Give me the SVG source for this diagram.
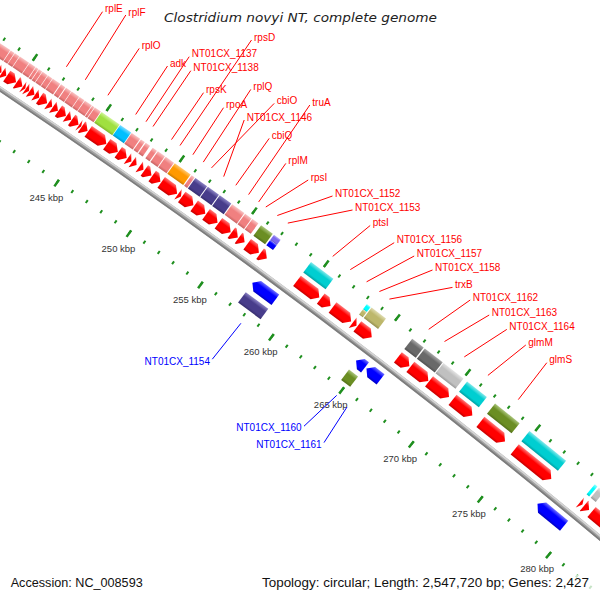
<svg xmlns="http://www.w3.org/2000/svg" width="600" height="600" viewBox="0 0 600 600">
<defs>
<linearGradient id="gR"><stop offset="0" stop-color="#c40000"/><stop offset=".22" stop-color="#ff0000"/><stop offset=".68" stop-color="#ff0000"/><stop offset="1" stop-color="#ff7878"/></linearGradient>
<linearGradient id="gB"><stop offset="0" stop-color="#0000c0"/><stop offset=".22" stop-color="#0000ff"/><stop offset=".68" stop-color="#0000ff"/><stop offset="1" stop-color="#7070ff"/></linearGradient>
<linearGradient id="gPk"><stop offset="0" stop-color="#c86464"/><stop offset=".22" stop-color="#f08080"/><stop offset=".68" stop-color="#f08080"/><stop offset="1" stop-color="#f8c4c4"/></linearGradient>
<linearGradient id="gGn"><stop offset="0" stop-color="#7fb52a"/><stop offset=".22" stop-color="#a0e040"/><stop offset=".68" stop-color="#a0e040"/><stop offset="1" stop-color="#d0f59a"/></linearGradient>
<linearGradient id="gCy"><stop offset="0" stop-color="#0096c8"/><stop offset=".22" stop-color="#00bfff"/><stop offset=".68" stop-color="#00bfff"/><stop offset="1" stop-color="#80dcff"/></linearGradient>
<linearGradient id="gOr"><stop offset="0" stop-color="#c87800"/><stop offset=".22" stop-color="#ff9900"/><stop offset=".68" stop-color="#ff9900"/><stop offset="1" stop-color="#ffc870"/></linearGradient>
<linearGradient id="gSl"><stop offset="0" stop-color="#372e6e"/><stop offset=".22" stop-color="#483d8b"/><stop offset=".68" stop-color="#483d8b"/><stop offset="1" stop-color="#8c84c4"/></linearGradient>
<linearGradient id="gOl"><stop offset="0" stop-color="#53701a"/><stop offset=".22" stop-color="#6b8e23"/><stop offset=".68" stop-color="#6b8e23"/><stop offset="1" stop-color="#a9c47a"/></linearGradient>
<linearGradient id="gLi"><stop offset="0" stop-color="#5f50c0"/><stop offset=".22" stop-color="#7b68ee"/><stop offset=".68" stop-color="#7b68ee"/><stop offset="1" stop-color="#b8aef8"/></linearGradient>
<linearGradient id="gTq"><stop offset="0" stop-color="#00a0a3"/><stop offset=".22" stop-color="#00ced1"/><stop offset=".68" stop-color="#00ced1"/><stop offset="1" stop-color="#80e8ea"/></linearGradient>
<linearGradient id="gKh"><stop offset="0" stop-color="#959050"/><stop offset=".22" stop-color="#bdb76b"/><stop offset=".68" stop-color="#bdb76b"/><stop offset="1" stop-color="#dedbb0"/></linearGradient>
<linearGradient id="gCn"><stop offset="0" stop-color="#00c8c8"/><stop offset=".22" stop-color="#00ffff"/><stop offset=".68" stop-color="#00ffff"/><stop offset="1" stop-color="#90ffff"/></linearGradient>
<linearGradient id="gDg"><stop offset="0" stop-color="#505050"/><stop offset=".22" stop-color="#696969"/><stop offset=".68" stop-color="#696969"/><stop offset="1" stop-color="#a8a8a8"/></linearGradient>
<linearGradient id="gSv"><stop offset="0" stop-color="#989898"/><stop offset=".22" stop-color="#c0c0c0"/><stop offset=".68" stop-color="#c0c0c0"/><stop offset="1" stop-color="#e4e4e4"/></linearGradient>
</defs>
<style>
.r{fill:url(#gR)}.b{fill:url(#gB)}.pk{fill:url(#gPk)}.gn{fill:url(#gGn)}.cy{fill:url(#gCy)}.or{fill:url(#gOr)}.sl{fill:url(#gSl)}.ol{fill:url(#gOl)}.li{fill:url(#gLi)}.tq{fill:url(#gTq)}.kh{fill:url(#gKh)}.cn{fill:url(#gCn)}.dg{fill:url(#gDg)}.sv{fill:url(#gSv)}
text{font-family:"Liberation Sans",Arial,sans-serif}
.gl{font-size:10px;fill:#f00}
.bl{font-size:10px;fill:#00f;text-anchor:end}
.kb{font-size:9.5px;fill:#333;text-anchor:middle}
.ti{font-family:"DejaVu Sans",sans-serif;font-style:italic;font-size:12.5px;fill:#222}
.ft{font-size:12.5px;fill:#111}
.tk{fill:none;stroke:#1f8f1f}
#connectors line{stroke-width:1}
.cr{stroke:#f00}.cb{stroke:#00f}
</style>
<rect width="600" height="600" fill="#fff"/>
<g id="backbone" fill="none">
<circle cx="-4003.1" cy="6063.9" r="7192" stroke="#a0a0a0" stroke-width="5"/>
<circle cx="-4003.1" cy="6063.9" r="7193.6" stroke="#d4d4d4" stroke-width="1.8"/>
<circle cx="-4003.1" cy="6063.9" r="7190.4" stroke="#7c7c7c" stroke-width="1.6"/>
</g>
<g id="ticks">
<path class="tk" d="M-73.75,92.8A7148,7148 0 0 1 603.96,598.66" stroke-width="3.5" stroke-dasharray="2 15.6284" stroke-dashoffset="1"/>
<path class="tk" d="M-74.85,94.47A7146,7146 0 0 1 602.67,600.19" stroke-width="8" stroke-dasharray="2.5 85.617" stroke-dashoffset="18.873"/>
<path class="tk" d="M-25.54,19.54A7235.7,7235.7 0 0 1 660.48,531.61" stroke-width="3.5" stroke-dasharray="2 15.8447" stroke-dashoffset="1"/>
<path class="tk" d="M-24.44,17.87A7237.7,7237.7 0 0 1 661.77,530.08" stroke-width="8" stroke-dasharray="2.5 86.747" stroke-dashoffset="19.099"/>
</g>
<g id="kbp-labels">
<text class="kb" x="46.45" y="201.3">245 kbp</text>
<text class="kb" x="118.48" y="251.7">250 kbp</text>
<text class="kb" x="189.87" y="303">255 kbp</text>
<text class="kb" x="260.63" y="355.1">260 kbp</text>
<text class="kb" x="330.75" y="408.1">265 kbp</text>
<text class="kb" x="400.19" y="462">270 kbp</text>
<text class="kb" x="468.97" y="516.7">275 kbp</text>
<text class="kb" x="537.07" y="572.3">280 kbp</text>
</g>
<g id="features" transform="translate(-4003.1 6063.9)">
<g id="gene0" transform="rotate(-56.459)translate(7192)"><path class="r" d="M8-7.16H21V1.16L14.5 7.16 8 1.16Z"/><rect class="pk" x="25" y="-7.16" width="13" height="14.32"/></g>
<g id="gene1" transform="rotate(-56.3382)translate(7192)"><path class="r" d="M8-7.08H21V1.08L14.5 7.08 8 1.08Z"/><rect class="pk" x="25" y="-7.08" width="13" height="14.16"/></g>
<g id="gene2" transform="rotate(-56.2597)translate(7192)"><path class="r" d="M8-2.19H21L14.5 2.19Z"/><rect class="pk" x="25" y="-2.19" width="13" height="4.38"/></g>
<g id="gene3" transform="rotate(-56.2166)translate(7192)"><path class="r" d="M8-2.63H21L14.5 2.63Z"/><rect class="pk" x="25" y="-2.63" width="13" height="5.26"/></g>
<g id="gene4" transform="rotate(-56.1467)translate(7192)"><path class="r" d="M8-5.57H21V-.43L14.5 5.57 8-.43Z"/><rect class="pk" x="25" y="-5.57" width="13" height="11.14"/></g>
<g id="gene5" transform="rotate(-56.0697)translate(7192)"><path class="r" d="M8-3.52H21V-2.48L14.5 3.52 8-2.48Z"/><rect class="pk" x="25" y="-3.52" width="13" height="7.04"/></g>
<g id="gene6" transform="rotate(-56.0252)translate(7192)"><path class="r" d="M8-1.48H21L14.5 1.48Z"/><rect class="pk" x="25" y="-1.48" width="13" height="2.96"/></g>
<g id="gene7" transform="rotate(-55.9934)translate(7192)"><path class="r" d="M8-1.92H21L14.5 1.92Z"/><rect class="pk" x="25" y="-1.92" width="13" height="3.84"/></g>
<g id="gene8" transform="rotate(-55.9496)translate(7192)"><path class="r" d="M8-2.99H21L14.5 2.99Z"/><rect class="pk" x="25" y="-2.99" width="13" height="5.98"/></g>
<g id="gene9" transform="rotate(-55.9008)translate(7192)"><path class="r" d="M8-2.55H21L14.5 2.55Z"/><rect class="pk" x="25" y="-2.55" width="13" height="5.1"/></g>
<g id="rplE" transform="rotate(-55.8401)translate(7192)"><path class="r" d="M8-4.5H21V-1.5L14.5 4.5 8-1.5Z"/><rect class="pk" x="25" y="-4.5" width="13" height="9"/></g>
<g id="gene11" transform="rotate(-55.7765)translate(7192)"><path class="r" d="M8-2.55H21L14.5 2.55Z"/><rect class="pk" x="25" y="-2.55" width="13" height="5.1"/></g>
<g id="gene12" transform="rotate(-55.7242)translate(7192)"><path class="r" d="M8-3.08H21V-2.92L14.5 3.08 8-2.92Z"/><rect class="pk" x="25" y="-3.08" width="13" height="6.16"/></g>
<g id="rplF" transform="rotate(-55.6592)translate(7192)"><path class="r" d="M8-4.5H21V-1.5L14.5 4.5 8-1.5Z"/><rect class="pk" x="25" y="-4.5" width="13" height="9"/></g>
<g id="gene14" transform="rotate(-55.5956)translate(7192)"><path class="r" d="M8-2.9H21L14.5 2.9Z"/><rect class="pk" x="25" y="-2.9" width="13" height="5.8"/></g>
<g id="gene15" transform="rotate(-55.5349)translate(7192)"><path class="r" d="M8-4.14H21V-1.86L14.5 4.14 8-1.86Z"/><rect class="pk" x="25" y="-4.14" width="13" height="8.28"/></g>
<g id="gene16" transform="rotate(-55.4868)translate(7192)"><path class="r" d="M8-1.3H21L14.5 1.3Z"/><rect class="pk" x="25" y="-1.3" width="13" height="2.6"/></g>
<g id="rplO" transform="rotate(-55.443)translate(7192)"><path class="r" d="M8-3.61H21V-2.39L14.5 3.61 8-2.39Z"/><rect class="pk" x="25" y="-3.61" width="13" height="7.22"/></g>
<g id="secY" transform="rotate(-55.3208)translate(7192)"><path class="r" d="M8-10.99H21V4.99L14.5 10.99 8 4.99Z"/><rect class="gn" x="25" y="-10.99" width="13" height="21.98"/></g>
<g id="adk" transform="rotate(-55.1752)translate(7192)"><path class="r" d="M8-6.72H21V.72L14.5 6.72 8 .72Z"/><rect class="cy" x="25" y="-6.72" width="13" height="13.44"/></g>
<g id="NT01CX_1137" transform="rotate(-55.0763)translate(7192)"><path class="r" d="M8-5.12H21V-.88L14.5 5.12 8-.88Z"/><rect class="pk" x="25" y="-5.12" width="13" height="10.24"/></g>
<g id="NT01CX_1138" transform="rotate(-55.0092)translate(7192)"><path class="r" d="M8-2.37H21L14.5 2.37Z"/><rect class="pk" x="25" y="-2.37" width="13" height="4.74"/></g>
<g id="gene22" transform="rotate(-54.9605)translate(7192)"><path class="r" d="M8-2.63H21L14.5 2.63Z"/><rect class="pk" x="25" y="-2.63" width="13" height="5.26"/></g>
<g id="gene23" transform="rotate(-54.8933)translate(7192)"><path class="r" d="M8-2.55H21L14.5 2.55Z"/><rect class="pk" x="25" y="-2.55" width="13" height="5.1"/></g>
<g id="rpsK" transform="rotate(-54.8298)translate(7192)"><path class="r" d="M8-4.32H21V-1.68L14.5 4.32 8-1.68Z"/><rect class="pk" x="25" y="-4.32" width="13" height="8.64"/></g>
<g id="rpsD" transform="rotate(-54.7478)translate(7192)"><path class="r" d="M8-5.03H21V-.97L14.5 5.03 8-.97Z"/><rect class="pk" x="25" y="-5.03" width="13" height="10.06"/></g>
<g id="rpoA" transform="rotate(-54.6228)translate(7192)"><path class="r" d="M8-9.74H21V3.74L14.5 9.74 8 3.74Z"/><rect class="or" x="25" y="-9.74" width="13" height="19.48"/></g>
<g id="rplQ" transform="rotate(-54.5217)translate(7192)"><path class="r" d="M8-1.83H21L14.5 1.83Z"/><rect class="pk" x="25" y="-1.83" width="13" height="3.66"/></g>
<g id="cbiO" transform="rotate(-54.4426)translate(7192)"><path class="r" d="M8-7.17H21V1.17L14.5 7.17 8 1.17Z"/><rect class="sl" x="25" y="-7.17" width="13" height="14.34"/></g>
<g id="NT01CX_1146" transform="rotate(-54.3239)translate(7192)"><path class="r" d="M8-6.81H21V.81L14.5 6.81 8 .81Z"/><rect class="sl" x="25" y="-6.81" width="13" height="13.62"/></g>
<g id="cbiQ" transform="rotate(-54.2059)translate(7192)"><path class="r" d="M8-7.08H21V1.08L14.5 7.08 8 1.08Z"/><rect class="sl" x="25" y="-7.08" width="13" height="14.16"/></g>
<g id="truA" transform="rotate(-54.0809)translate(7192)"><path class="r" d="M8-7.52H21V1.52L14.5 7.52 8 1.52Z"/><rect class="pk" x="25" y="-7.52" width="13" height="15.04"/></g>
<g id="rplM" transform="rotate(-53.982)translate(7192)"><path class="r" d="M8-3.97H21V-2.03L14.5 3.97 8-2.03Z"/><rect class="pk" x="25" y="-3.97" width="13" height="7.94"/></g>
<g id="rpsI" transform="rotate(-53.9134)translate(7192)"><path class="r" d="M8-3.7H21V-2.3L14.5 3.7 8-2.3Z"/><rect class="pk" x="25" y="-3.7" width="13" height="7.4"/></g>
<g id="NT01CX_1152" transform="rotate(-53.8004)translate(7192)"><path class="r" d="M8-7.25H21V1.25L14.5 7.25 8 1.25Z"/><rect class="ol" x="25" y="-7.25" width="13" height="14.5"/></g>
<g id="NT01CX_1153" transform="rotate(-53.6979)translate(7192)"><path class="r" d="M8-4.14H21V-1.86L14.5 4.14 8-1.86Z"/><rect class="li" x="31.5" y="-4.14" width="6.5" height="8.28"/><rect class="b" x="25" y="-4.14" width="6.5" height="8.28"/></g>
<g id="ptsI" transform="rotate(-53.2557)translate(7192)"><path class="r" d="M8-13.92H21V7.92L14.5 13.92 8 7.92Z"/><rect class="tq" x="25" y="-13.92" width="13" height="27.84"/></g>
<g id="NT01CX_1156" transform="rotate(-53.0819)translate(7192)"><path class="r" d="M8-6.1H21V.1L14.5 6.1 8 .1Z"/></g>
<g id="NT01CX_1157" transform="rotate(-52.9208)translate(7192)"><path class="r" d="M8-11.61H21V5.61L14.5 11.61 8 5.61Z"/></g>
<g id="NT01CX_1158" transform="rotate(-52.7936)translate(7192)"><path class="r" d="M8-2.37H21L14.5 2.37Z"/><rect class="cn" x="31.5" y="-2.37" width="6.5" height="4.74"/><rect class="kh" x="25" y="-2.37" width="6.5" height="4.74"/></g>
<g id="trxB" transform="rotate(-52.694)translate(7192)"><path class="r" d="M8-9.03H21V3.03L14.5 9.03 8 3.03Z"/><rect class="kh" x="25" y="-9.03" width="13" height="18.06"/></g>
<g id="NT01CX_1162" transform="rotate(-52.3026)translate(7192)"><path class="r" d="M8-7.25H21V1.25L14.5 7.25 8 1.25Z"/><rect class="dg" x="25" y="-7.25" width="13" height="14.5"/></g>
<g id="NT01CX_1163" transform="rotate(-52.1443)translate(7192)"><path class="r" d="M8-11.34H21V5.34L14.5 11.34 8 5.34Z"/><rect class="dg" x="25" y="-11.34" width="13" height="22.68"/></g>
<g id="NT01CX_1164" transform="rotate(-51.9458)translate(7192)"><path class="r" d="M8-12.67H21V6.67L14.5 12.67 8 6.67Z"/><rect class="sv" x="25" y="-12.67" width="13" height="25.34"/></g>
<g id="glmM" transform="rotate(-51.7091)translate(7192)"><path class="r" d="M8-12.58H21V6.58L14.5 12.58 8 6.58Z"/><rect class="tq" x="25" y="-12.58" width="13" height="25.16"/></g>
<g id="glmS" transform="rotate(-51.4018)translate(7192)"><path class="r" d="M8-15.7H21V9.7L14.5 15.7 8 9.7Z"/><rect class="ol" x="25" y="-15.7" width="13" height="31.4"/></g>
<g id="gene46" transform="rotate(-50.9906)translate(7192)"><path class="r" d="M8-23.52H21V17.52L14.5 23.52 8 17.52Z"/><rect class="tq" x="25" y="-23.52" width="13" height="47.04"/></g>
<g id="gene47" transform="rotate(-50.496)translate(7192)"><path class="r" d="M8-1.66H21L14.5 1.66Z"/><rect class="cn" x="25" y="-1.66" width="13" height="3.32"/></g>
<g id="gene48" transform="rotate(-50.4409)translate(7192)"><path class="r" d="M8-3.26H21V-2.74L14.5 3.26 8-2.74Z"/><rect class="sv" x="25" y="-3.26" width="13" height="6.52"/></g>
<g id="gene49" transform="rotate(-50.2925)translate(7192)"><path class="r" d="M8-12.14H21V6.14L14.5 12.14 8 6.14Z"/></g>
<g id="NT01CX_1154" transform="rotate(-53.5294)translate(7192)"><path class="b" d="M-20 14.3H-7V-8.3L-13.5-14.3-20-8.3Z"/><rect class="sl" x="-38" y="-14" width="13" height="28"/></g>
<g id="NT01CX_1160" transform="rotate(-52.564)translate(7192)"><path class="b" d="M-20 5.63H-7V.37L-13.5-5.63-20 .37Z"/><rect class="ol" x="-38" y="-5.7" width="13" height="11.4"/></g>
<g id="NT01CX_1161" transform="rotate(-52.4333)translate(7192)"><path class="b" d="M-20 8.9H-7V-2.9L-13.5-8.9-20-2.9Z"/></g>
<g id="rgene4" transform="rotate(-50.626)translate(7192)"><path class="b" d="M-20 17.23H-7V-11.23L-13.5-17.23-20-11.23Z"/></g>
<g id="rgene5" transform="rotate(-49.9795)translate(7192)"><path class="b" d="M-20 13.42H-7V-7.42L-13.5-13.42-20-7.42Z"/></g>
</g>
<g id="connectors">
<line class="cr" x1="66.4" y1="66.8" x2="102.5" y2="11.7"/>
<line class="cr" x1="85.3" y1="79.8" x2="125.8" y2="15"/>
<line class="cr" x1="107.9" y1="95.3" x2="139.2" y2="48.4"/>
<line class="cr" x1="135.7" y1="114.5" x2="167.5" y2="66"/>
<line class="cr" x1="146" y1="121.7" x2="189.2" y2="56.7"/>
<line class="cr" x1="153" y1="126.5" x2="190.8" y2="70.7"/>
<line class="cr" x1="171.5" y1="139.6" x2="203.5" y2="92.7"/>
<line class="cr" x1="180" y1="145.5" x2="251.5" y2="40"/>
<line class="cr" x1="192.9" y1="154.7" x2="223.5" y2="107.7"/>
<line class="cr" x1="203.3" y1="162.1" x2="250.8" y2="89.4"/>
<line class="cr" x1="211.5" y1="167.9" x2="274.2" y2="103.4"/>
<line class="cr" x1="223.7" y1="176.6" x2="244.2" y2="120"/>
<line class="cr" x1="235.8" y1="185.3" x2="269.2" y2="138.4"/>
<line class="cr" x1="248.6" y1="194.6" x2="309.8" y2="105"/>
<line class="cr" x1="258.7" y1="201.9" x2="285.8" y2="163.4"/>
<line class="cr" x1="265.8" y1="207" x2="308.2" y2="180"/>
<line class="cr" x1="277.3" y1="215.5" x2="332.5" y2="196"/>
<line class="cr" x1="287.8" y1="223.1" x2="352.5" y2="210"/>
<line class="cr" x1="332.7" y1="256.4" x2="370.2" y2="225.5"/>
<line class="cr" x1="350.3" y1="269.6" x2="394.2" y2="242.7"/>
<line class="cr" x1="366.6" y1="281.8" x2="414.2" y2="256"/>
<line class="cr" x1="379.4" y1="291.5" x2="432.5" y2="270"/>
<line class="cr" x1="389.4" y1="299.1" x2="452.5" y2="287.4"/>
<line class="cr" x1="428.7" y1="329.3" x2="470.2" y2="300"/>
<line class="cr" x1="444.5" y1="341.5" x2="489.2" y2="315"/>
<line class="cr" x1="464.3" y1="356.9" x2="506.8" y2="329.4"/>
<line class="cr" x1="487.9" y1="375.4" x2="525.8" y2="345"/>
<line class="cr" x1="518.3" y1="399.6" x2="546.8" y2="362.7"/>
<line class="cb" x1="240.9" y1="323.3" x2="212.3" y2="359.2"/>
<line class="cb" x1="336.7" y1="395.4" x2="304" y2="426.2"/>
<line class="cb" x1="347" y1="407" x2="324" y2="442.6"/>
</g>
<g id="labels">
<text class="gl" x="105" y="12.2">rplE</text>
<text class="gl" x="128.3" y="15.5">rplF</text>
<text class="gl" x="141.7" y="48.9">rplO</text>
<text class="gl" x="170" y="66.5">adk</text>
<text class="gl" x="191.7" y="57.2">NT01CX_1137</text>
<text class="gl" x="193.3" y="71.2">NT01CX_1138</text>
<text class="gl" x="254" y="40.5">rpsD</text>
<text class="gl" x="206" y="93.2">rpsK</text>
<text class="gl" x="253.3" y="89.9">rplQ</text>
<text class="gl" x="226" y="108.2">rpoA</text>
<text class="gl" x="276.7" y="103.9">cbiO</text>
<text class="gl" x="312.3" y="105.5">truA</text>
<text class="gl" x="246.7" y="120.5">NT01CX_1146</text>
<text class="gl" x="271.7" y="138.9">cbiQ</text>
<text class="gl" x="288.3" y="163.9">rplM</text>
<text class="gl" x="310.7" y="180.5">rpsI</text>
<text class="gl" x="335" y="196.5">NT01CX_1152</text>
<text class="gl" x="355" y="210.5">NT01CX_1153</text>
<text class="gl" x="372.7" y="226">ptsI</text>
<text class="gl" x="396.7" y="243.2">NT01CX_1156</text>
<text class="gl" x="416.7" y="256.5">NT01CX_1157</text>
<text class="gl" x="435" y="270.5">NT01CX_1158</text>
<text class="gl" x="455" y="287.9">trxB</text>
<text class="gl" x="472.7" y="300.5">NT01CX_1162</text>
<text class="gl" x="491.7" y="315.5">NT01CX_1163</text>
<text class="gl" x="509.3" y="329.9">NT01CX_1164</text>
<text class="gl" x="528.3" y="345.5">glmM</text>
<text class="gl" x="549.3" y="363.2">glmS</text>
<text class="bl" x="210" y="364.5">NT01CX_1154</text>
<text class="bl" x="301.7" y="431.3">NT01CX_1160</text>
<text class="bl" x="321.7" y="447.9">NT01CX_1161</text>
</g>
<rect x="256" y="574.5" width="344" height="18" fill="#fff" fill-opacity=".75"/>
<text class="ti" x="164" y="22" textLength="273" lengthAdjust="spacingAndGlyphs">Clostridium novyi NT, complete genome</text>
<text class="ft" x="10.7" y="587" textLength="132" lengthAdjust="spacingAndGlyphs">Accession: NC_008593</text>
<text class="ft" x="262" y="587" textLength="327" lengthAdjust="spacingAndGlyphs">Topology: circular; Length: 2,547,720 bp; Genes: 2,427</text>
</svg>
